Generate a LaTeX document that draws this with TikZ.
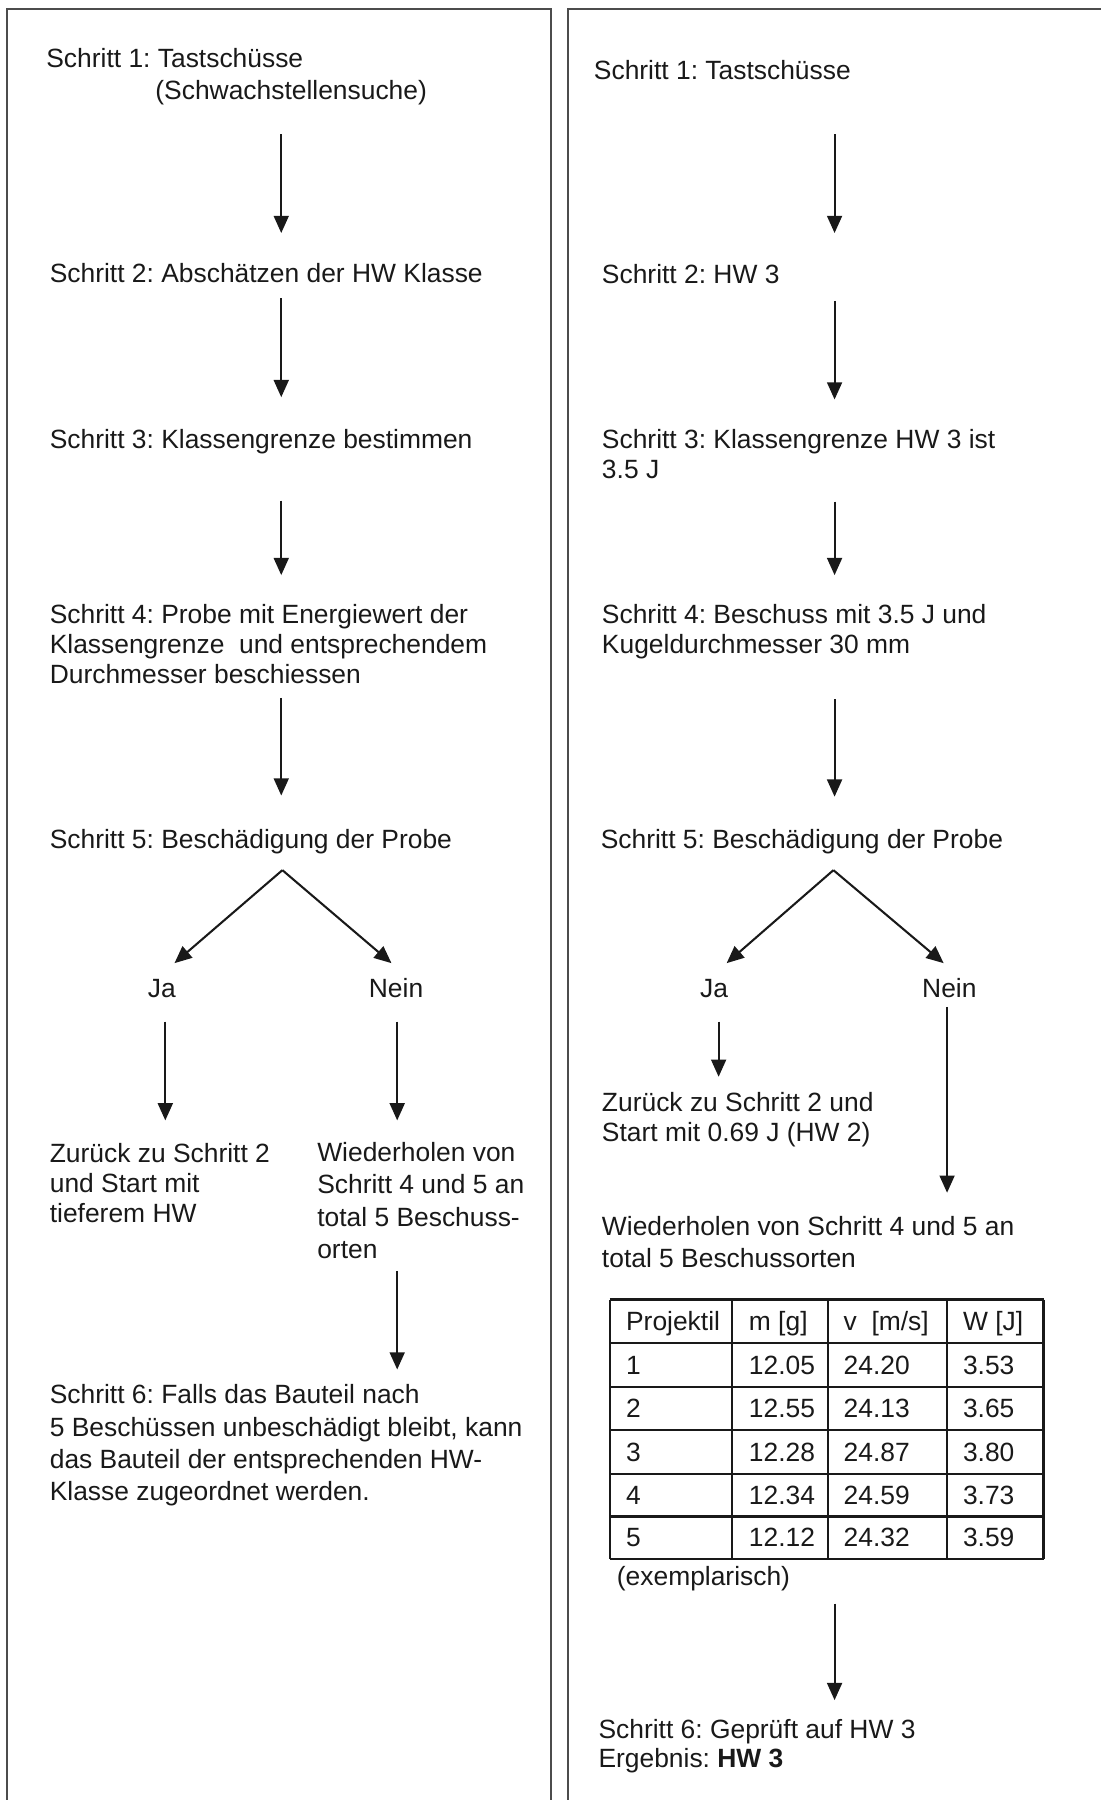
\documentclass[tikz,border=0pt]{standalone}
\usepackage{fontspec}
\setmainfont{Liberation Sans}
\usetikzlibrary{arrows.meta}
\frenchspacing
\begin{document}
\begin{tikzpicture}[x=0.5pt,y=-0.5pt,
  txt/.style={anchor=base west, inner sep=0pt, align=left, text=black!90,
    font=\fontsize{11.5pt}{13pt}\selectfont\frenchspacing},
  lbl/.style={anchor=base, inner sep=0pt, text=black!90,
    font=\fontsize{11.5pt}{13pt}\selectfont},
  arr/.style={-{Triangle[length=7.5pt,width=6.5pt]}, line width=0.9pt, draw=black!90},
  frame/.style={draw=black!70, line width=0.7pt},
  grid/.style={draw=black!90, line width=0.9pt}
]
\useasboundingbox (0,0) rectangle (959,1568);
% frames
\draw[frame] (6,1590) -- (6,8) -- (480,8) -- (480,1590);
\draw[frame] (495,1590) -- (495,8) -- (980,8);

% ---------------- left column (anchor = baseline of last line) ----------------
\node[txt] (L1) at (40,87) {Schritt 1: Tastschüsse\\[1pt]\hspace*{47.5pt}(Schwachstellensuche)};
\node[txt] (L2) at (43,246) {Schritt 2: Abschätzen der HW Klasse};
\node[txt] (L3) at (43,391) {Schritt 3: Klassengrenze bestimmen};
\node[txt] (L4) at (43,595) {Schritt 4: Probe mit Energiewert der\\Klassengrenze\ \ und entsprechendem\\Durchmesser beschiessen};
\node[txt] (L5) at (43,739) {Schritt 5: Beschädigung der Probe};
\node[lbl] (LJa) at (141,869) {Ja};
\node[lbl] (LNein) at (345,869) {Nein};
\node[txt] (LJt) at (43,1065) {Zurück zu Schritt 2\\und Start mit\\tieferem HW};
\node[txt] (LNt) at (276,1096) {Wiederholen von\\[1pt]Schritt 4 und 5 an\\[1pt]total 5 Beschuss-\\[1pt]orten};
\node[txt] (L6) at (43,1307) {Schritt 6: Falls das Bauteil nach\\[1pt]5 Beschüssen unbeschädigt bleibt, kann\\[1pt]das Bauteil der entsprechenden HW-\\[1pt]Klasse zugeordnet werden.};

\coordinate (la1s) at (245,117); \coordinate (la1e) at (245,203);
\coordinate (la2s) at (245,260); \coordinate (la2e) at (245,346);
\coordinate (la3s) at (245,436); \coordinate (la3e) at (245,501);
\coordinate (la4s) at (245,608); \coordinate (la4e) at (245,693);
\coordinate (lap)  at (246,758);
\coordinate (ljtip) at (152,839); \coordinate (lntip) at (341,839);
\coordinate (lja1) at (144,890); \coordinate (lja2) at (144,976);
\coordinate (lna1) at (346,890); \coordinate (lna2) at (346,976);
\coordinate (lnb1) at (346,1107); \coordinate (lnb2) at (346,1193);
\draw[arr] (la1s) -- (la1e);
\draw[arr] (la2s) -- (la2e);
\draw[arr] (la3s) -- (la3e);
\draw[arr] (la4s) -- (la4e);
\draw[arr] (lap) -- (ljtip);
\draw[arr] (lap) -- (lntip);
\draw[arr] (lja1) -- (lja2);
\draw[arr] (lna1) -- (lna2);
\draw[arr] (lnb1) -- (lnb2);

% ---------------- right column ----------------
\node[txt] (R1) at (517,69) {Schritt 1: Tastschüsse};
\node[txt] (R2) at (524,247) {Schritt 2: HW 3};
\node[txt] (R3) at (524,417) {Schritt 3: Klassengrenze HW 3 ist\\3.5 J};
\node[txt] (R4) at (524,569) {Schritt 4: Beschuss mit 3.5 J und\\Kugeldurchmesser 30 mm};
\node[txt] (R5) at (523,739) {Schritt 5: Beschädigung der Probe};
\node[lbl] (RJa) at (622,869) {Ja};
\node[lbl] (RNein) at (827,869) {Nein};
\node[txt] (RJt) at (524,994) {Zurück zu Schritt 2 und\\Start mit 0.69 J (HW 2)};
\node[txt] (RNt) at (524,1104) {Wiederholen von Schritt 4 und 5 an\\[1pt]total 5 Beschussorten};
\node[txt] (Rex) at (537,1381) {(exemplarisch)};
\node[txt] (R6) at (521,1540) {Schritt 6: Geprüft auf HW 3\\Ergebnis: \textbf{HW 3}};

\coordinate (ra1s) at (727,117); \coordinate (ra1e) at (727,203);
\coordinate (ra2s) at (727,262); \coordinate (ra2e) at (727,348);
\coordinate (ra3s) at (727,437); \coordinate (ra3e) at (727,501);
\coordinate (ra4s) at (727,609); \coordinate (ra4e) at (727,694);
\coordinate (rap)  at (726,758);
\coordinate (rjtip) at (633,839); \coordinate (rntip) at (822,839);
\coordinate (rja1) at (626,890); \coordinate (rja2) at (626,938);
\coordinate (rna1) at (825,877); \coordinate (rna2) at (825,1039);
\coordinate (ra6s) at (727,1397); \coordinate (ra6e) at (727,1481);
\draw[arr] (ra1s) -- (ra1e);
\draw[arr] (ra2s) -- (ra2e);
\draw[arr] (ra3s) -- (ra3e);
\draw[arr] (ra4s) -- (ra4e);
\draw[arr] (rap) -- (rjtip);
\draw[arr] (rap) -- (rntip);
\draw[arr] (rja1) -- (rja2);
\draw[arr] (rna1) -- (rna2);
\draw[arr] (ra6s) -- (ra6e);

% ---------------- table ----------------
\foreach \yy in {1132,1170,1208,1246,1284,1321,1358}
  \draw[grid] (531,\yy) -- (909,\yy);
\foreach \xx in {531,638,721,825,909}
  \draw[grid] (\xx,1132) -- (\xx,1358);
\foreach \r/\yy/\a/\b/\c/\d in {
  0/1159/Projektil/{m [g]}/{v\ \ [m/s]}/{W [J]},
  1/1197/1/12.05/24.20/3.53,
  2/1235/2/12.55/24.13/3.65,
  3/1273/3/12.28/24.87/3.80,
  4/1310.5/4/12.34/24.59/3.73,
  5/1347.5/5/12.12/24.32/3.59}{
  \node[txt] (c\r a) at (545,\yy) {\a};
  \node[txt] (c\r b) at (652,\yy) {\b};
  \node[txt] (c\r c) at (734.5,\yy) {\c};
  \node[txt] (c\r d) at (838.5,\yy) {\d};
}
\end{tikzpicture}
\end{document}
